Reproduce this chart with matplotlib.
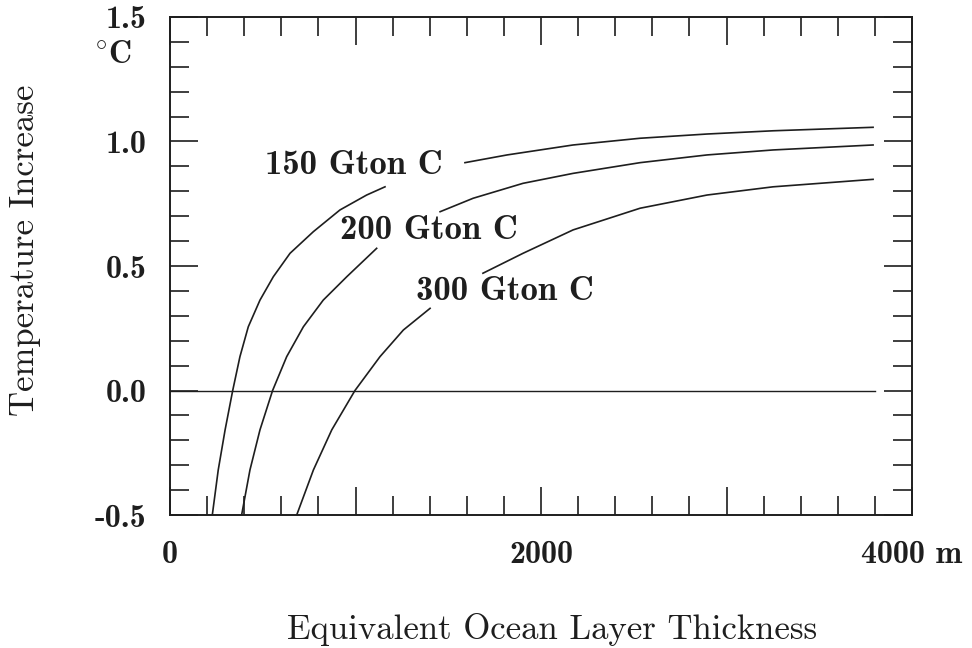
import matplotlib
matplotlib.use("Agg")
import matplotlib.pyplot as plt
import matplotlib.transforms as mtransforms
from matplotlib.ticker import FixedLocator, MultipleLocator
import numpy as np

INK = "#1e1e1e"

plt.rcParams.update(
    {
        "mathtext.fontset": "cm",
        "axes.linewidth": 1.4,
        "axes.edgecolor": INK,
        "xtick.color": INK,
        "ytick.color": INK,
    }
)

# curves (x in m, y in deg C); nan = gap where the label sits
x150 = [228, 260, 297, 338, 377, 422, 485, 557, 647, 773, 916, 1060, 1159, np.nan,
        1590, 1817, 2173, 2534, 2895, 3251, 3790]
y150 = [-0.5, -0.319, -0.158, 0.0, 0.136, 0.256, 0.363, 0.457, 0.551, 0.638,
        0.725, 0.785, 0.818, np.nan,
        0.915, 0.946, 0.986, 1.013, 1.030, 1.043, 1.057]

x200 = [386, 431, 485, 553, 629, 719, 826, 953, 1114, np.nan,
        1456, 1634, 1903, 2173, 2534, 2895, 3251, 3790]
y200 = [-0.5, -0.319, -0.158, 0.0, 0.136, 0.256, 0.363, 0.457, 0.571, np.nan,
        0.718, 0.772, 0.832, 0.872, 0.915, 0.946, 0.966, 0.986]

x300 = [683, 773, 872, 997, 1132, 1258, 1402, np.nan,
        1687, 1903, 2173, 2534, 2895, 3251, 3790]
y300 = [-0.5, -0.319, -0.158, 0.0, 0.136, 0.243, 0.330, np.nan,
        0.471, 0.551, 0.645, 0.732, 0.785, 0.818, 0.848]

zero_x = [0, 3800]
zero_y = [0, 0]

curve_labels = ["150 Gton C", "200 Gton C", "300 Gton C"]

x_major = [0, 1000, 2000, 3000, 4000]
x_major_labels = ["0", "", "2000", "", "4000 m"]
y_major = [-0.5, 0.0, 0.5, 1.0, 1.5]
y_major_labels = ["-0.5", "0.0", "0.5", "1.0", "1.5"]

fig = plt.figure(figsize=(9.72, 6.48), dpi=100)
ax = fig.add_axes([0.1749, 0.2052, 0.7634, 0.7686])

for xs, ys in [(x150, y150), (x200, y200), (x300, y300)]:
    ax.plot(xs, ys, color=INK, linewidth=1.2)
ax.plot(zero_x, zero_y, color=INK, linewidth=1.0)

ax.set_xlim(0, 4000)
ax.set_ylim(-0.5, 1.5)

ax.xaxis.set_major_locator(FixedLocator(x_major))
ax.xaxis.set_minor_locator(MultipleLocator(200))
ax.yaxis.set_major_locator(FixedLocator(y_major))
ax.yaxis.set_minor_locator(MultipleLocator(0.1))
ax.set_xticklabels(x_major_labels, family="cmb10", fontsize=23)
ax.set_yticklabels(y_major_labels, family="cmb10", fontsize=23)

ax.tick_params(which="both", direction="in", top=True, right=True, width=1.2)
ax.tick_params(which="major", length=20)
ax.tick_params(which="minor", length=13.5)
ax.tick_params(axis="x", which="major", pad=18)
ax.tick_params(axis="y", which="major", pad=17)

# degree unit under the top y label
trans = mtransforms.blended_transform_factory(ax.transAxes, ax.transData)
ax.text(-0.051, 1.35, r"$^{\circ}$C", transform=trans, ha="right", va="center",
        family="cmb10", fontsize=23, color=INK)

label_pos = [(992, 0.902), (1396, 0.641), (1806, 0.396)]
for txt, (lx, ly) in zip(curve_labels, label_pos):
    ax.text(lx, ly, txt, ha="center", va="center", family="cmb10",
            fontsize=25, color=INK)

fig.text(0.568, 0.014, "Equivalent Ocean Layer Thickness", ha="center",
         va="baseline", family="cmr10", fontsize=25, color=INK)
fig.text(0.026, 0.614, "Temperature Increase", ha="center", va="center",
         rotation=90, family="cmr10", fontsize=25, color=INK)

fig.savefig("out.png", dpi=100, facecolor="white")
